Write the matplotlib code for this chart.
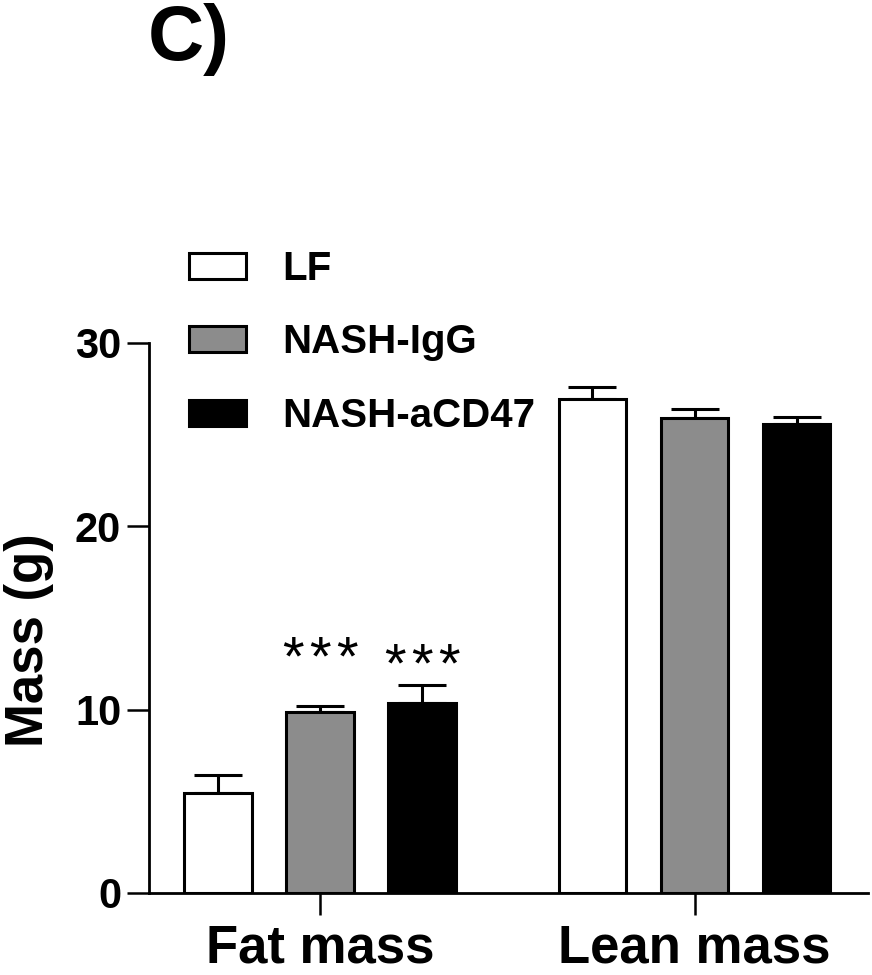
import numpy as np
import matplotlib
matplotlib.use('Agg')
import matplotlib.pyplot as plt

plt.rcParams['font.family'] = ['Liberation Sans', 'DejaVu Sans']
plt.rcParams['font.weight'] = 'bold'

groups = ['Fat mass', 'Lean mass']
series = ['LF', 'NASH-IgG', 'NASH-aCD47']
colors = ['white', '#8c8c8c', 'black']
means = {'LF': [5.44, 26.95], 'NASH-IgG': [9.89, 25.92], 'NASH-aCD47': [10.34, 25.6]}
errs = {'LF': [0.98, 0.65], 'NASH-IgG': [0.33, 0.49], 'NASH-aCD47': [0.98, 0.38]}
# significance marks: (number of stars, height of text baseline) per group
stars = {'NASH-IgG': [(3, 11.92), None], 'NASH-aCD47': [(3, 11.54), None]}

fig = plt.figure(figsize=(8.72, 9.75), dpi=100)
ax = fig.add_axes([149/872, 1-893/975, 719/872, 550/975])

centers = np.array([0.0, 3.67])
offs = [-1.0, 0.0, 1.0]
w = 0.66
for s, c, o in zip(series, colors, offs):
    x = centers + o
    ax.bar(x, means[s], width=w, color=c, edgecolor='black', linewidth=2.2,
           label=s, zorder=3)
    ax.errorbar(x, means[s], yerr=[np.zeros(2), errs[s]], fmt='none', ecolor='black',
                elinewidth=2.2, capsize=17, capthick=2.2, zorder=2)
    if s in stars:
        for xi, st in zip(x, stars[s]):
            if st:
                n, yb = st
                for k in range(n):
                    dx = (k - (n - 1) / 2) * 19.5
                    ax.annotate('*', (xi, yb), xytext=(dx, 0), textcoords='offset points',
                                ha='center', va='baseline', fontsize=40, fontweight='normal')

ax.set_xlim(-1.676, 5.37)
ax.set_ylim(0, 30)
ax.set_yticks([0, 10, 20, 30])
ax.set_xticks(centers)
ax.set_xticklabels(groups)
for sp in ['top', 'right']:
    ax.spines[sp].set_visible(False)
for sp in ['left', 'bottom']:
    ax.spines[sp].set_linewidth(2.0)
ax.tick_params(axis='both', length=16, width=1.8, labelsize=30, pad=4)
ax.tick_params(axis='x', labelsize=38, pad=6)
ax.set_ylabel('Mass (g)', fontsize=38, fontweight='bold')
ax.yaxis.set_label_coords(-0.132, 0.46)

ax.legend(loc='upper left', bbox_to_anchor=(189/872, 1-250/975),
          bbox_transform=fig.transFigure, frameon=False, fontsize=29,
          handlelength=1.42, handleheight=0.62, handletextpad=0.9,
          labelspacing=0.88, borderpad=0, borderaxespad=0)

fig.text(148/872, 0.997, 'C)', fontsize=56, fontweight='bold', va='top', ha='left')

fig.savefig('out.png', dpi=100)
